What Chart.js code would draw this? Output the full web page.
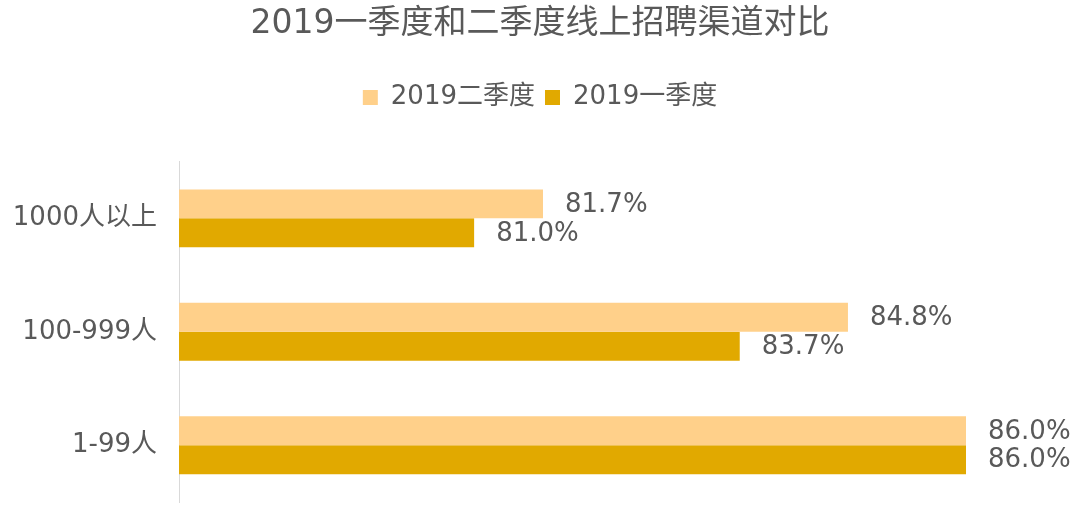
<!DOCTYPE html>
<html>
<head>
  <meta charset="utf-8">
  <title>2019一季度和二季度线上招聘渠道对比</title>
  <script src="https://cdn.jsdelivr.net/npm/chart.js"></script>
  <style>
    html, body {
      margin: 0;
      padding: 0;
      background: #fff;
    }
    #wrap {
      width: 1080px;
      height: 523px;
      position: relative;
    }
  </style>
</head>
<body>
  <div id="wrap"><canvas id="chart"></canvas></div>

  <script>
    // data
    const categories = ['1000人以上', '100-999人', '1-99人'];
    const seriesNames = ['2019二季度', '2019一季度'];
    const q2Values = [81.7, 84.8, 86.0];
    const q1Values = [81.0, 83.7, 86.0];

    const FONT = "'DejaVu Sans', 'Noto Sans CJK SC', sans-serif";
    const TEXT = '#595959';

    // value labels at the end of each bar
    const barLabels = {
      id: 'barLabels',
      afterDatasetsDraw(chart) {
        const c = chart.ctx;
        c.save();
        c.font = '26px ' + FONT;
        c.fillStyle = TEXT;
        c.textAlign = 'left';
        c.textBaseline = 'middle';
        chart.data.datasets.forEach((ds, i) => {
          chart.getDatasetMeta(i).data.forEach((bar, j) => {
            c.fillText(ds.data[j].toFixed(1) + '%', bar.x + 22, bar.y + 1);
          });
        });
        c.restore();
      }
    };

    const hidden = {
      grid: { display: false, drawTicks: false },
      border: { display: false },
      ticks: { display: false }
    };

    // no extra label overhang above/below the plot
    function noPad(s) {
      s.paddingTop = 0;
      s.paddingBottom = 0;
    }

    const ctx = document.getElementById('chart').getContext('2d');
    const chart = new Chart(ctx, {
      type: 'bar',
      data: {
        labels: categories,
        datasets: [{
          label: seriesNames[0],
          data: q2Values,
          backgroundColor: '#FFD08A'
        }, {
          label: seriesNames[1],
          data: q1Values,
          backgroundColor: '#E1A900'
        }]
      },
      options: {
        indexAxis: 'y',
        responsive: true,
        maintainAspectRatio: false,
        animation: false,
        layout: {
          padding: { top: 0, left: 0, right: 0, bottom: 21 }
        },
        datasets: {
          bar: {
            barPercentage: 1.0,
            categoryPercentage: 0.51
          }
        },
        scales: {
          x: {
            position: 'top',
            min: 78,
            max: 86,
            ...hidden,
            // empty band between the legend and the bars
            afterFit(s) { s.height = 41; }
          },
          y: {
            grid: { display: false, drawTicks: false },
            border: { display: true, color: '#D9D9D9', width: 1 },
            ticks: {
              color: TEXT,
              padding: 22,
              font: { family: FONT, size: 26 }
            },
            afterFit(s) { s.width = 179; noPad(s); }
          },
          // room on the right for the value labels
          yRight: {
            type: 'category',
            position: 'right',
            ...hidden,
            afterFit(s) { s.width = 114; noPad(s); }
          }
        },
        plugins: {
          title: {
            display: true,
            text: '2019一季度和二季度线上招聘渠道对比',
            color: TEXT,
            font: { family: FONT, size: 33, weight: 'normal' },
            padding: { top: 5, bottom: 30 }
          },
          legend: {
            display: true,
            position: 'top',
            labels: {
              color: TEXT,
              boxWidth: 15,
              boxHeight: 15,
              padding: 10,
              font: { family: FONT, size: 26 }
            }
          },
          tooltip: { enabled: false }
        }
      },
      plugins: [barLabels]
    });
  </script>
</body>
</html>
